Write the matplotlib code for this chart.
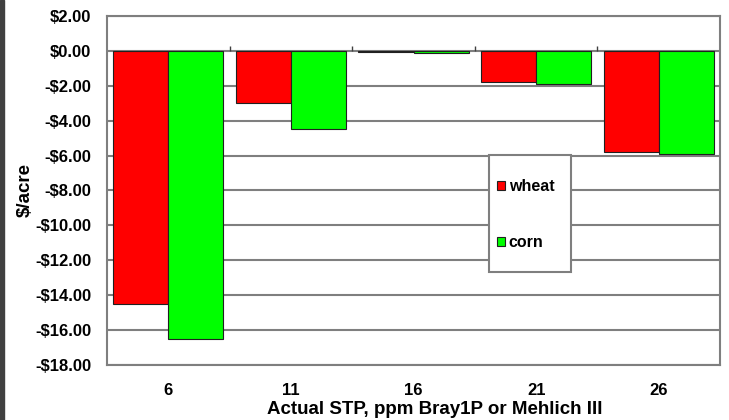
import matplotlib.pyplot as plt
from matplotlib.patches import Rectangle
import numpy as np

# data
stp_levels = ["6", "11", "16", "21", "26"]
wheat = [-14.5, -3.0, -0.04, -1.8, -5.8]
corn = [-16.5, -4.5, -0.1, -1.9, -5.9]
y_ticks = list(range(-18, 3, 2))

plt.rcParams['font.family'] = ['Liberation Sans', 'DejaVu Sans']
plt.rcParams['font.weight'] = 'bold'

fig = plt.figure(figsize=(7.29, 4.2), dpi=100)
ax = fig.add_axes([0.1468, 0.131, 0.8409, 0.831])

x = np.arange(len(stp_levels))
w = 0.45
ax.bar(x - w / 2, wheat, w, color="#ff0000", edgecolor="#202020", linewidth=0.8,
       label="wheat", zorder=3)
ax.bar(x + w / 2, corn, w, color="#00ff00", edgecolor="#202020", linewidth=0.8,
       label="corn", zorder=3)

ax.set_xlim(-0.5, len(stp_levels) - 0.5)
ax.set_ylim(-18, 2)
ax.set_yticks(y_ticks)
ax.set_yticklabels([("-$%.2f" % -v) if v < 0 else ("$%.2f" % v) for v in y_ticks])
ax.set_xticks(x)
ax.set_xticklabels(stp_levels)
ax.tick_params(axis='x', length=0, pad=13, labelsize=12)
ax.tick_params(axis='y', length=0, pad=11.5, labelsize=12)

ax.grid(axis='y', color="#7f7f7f", linewidth=1.5, zorder=0)
for s in ax.spines.values():
    s.set_color("#7f7f7f")
    s.set_linewidth(1.5)

# category separator ticks on the zero line
ax.vlines(x[:-1] + 0.5, 0, 0.3, color="#404040", linewidth=1, zorder=4)

ax.set_xlabel("Actual STP, ppm Bray1P or Mehlich III", fontsize=13.5, fontweight='bold')
ax.xaxis.set_label_coords(0.535, -0.104)
ax.set_ylabel("$/acre", fontsize=13.5, fontweight='bold')
ax.yaxis.set_label_coords(-0.119, 0.5)

# legend: white box with grey border, entries placed inside it
box_x, box_y, box_w, box_h = 0.623, 0.266, 0.134, 0.335
ax.add_patch(Rectangle((box_x, box_y), box_w, box_h, transform=ax.transAxes,
                       facecolor="white", edgecolor="#7f7f7f", linewidth=1.5,
                       zorder=5, clip_on=False))
leg = ax.legend(loc='center left', bbox_to_anchor=(box_x + 0.013, box_y + box_h / 2 - 0.003),
                fontsize=11.5, labelspacing=2.6, handlelength=0.5,
                handleheight=0.5, handletextpad=0.25, borderpad=0,
                frameon=False, borderaxespad=0)
leg.set_zorder(6)

# dark border on the left edge of the picture
fig.patches.append(Rectangle((0, 0), 0.006, 1, transform=fig.transFigure,
                             color="#404040", zorder=0))

fig.savefig("out.png", dpi=100)
